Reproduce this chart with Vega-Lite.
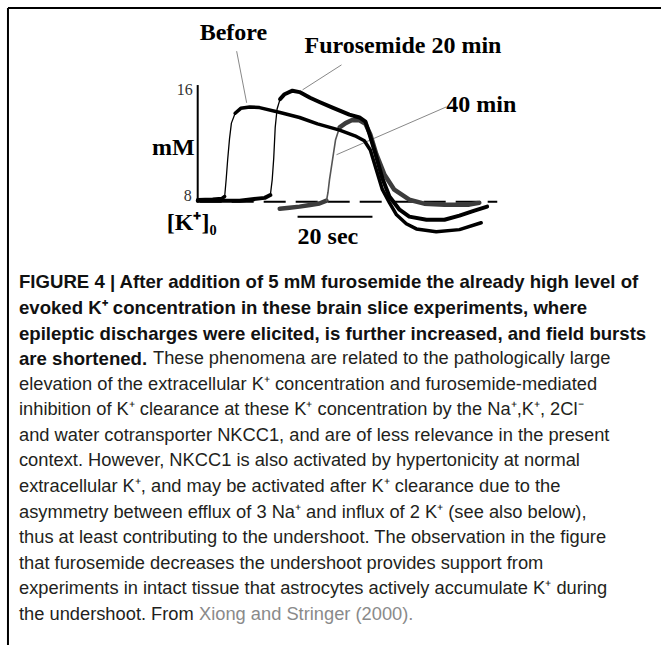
{
  "$schema": "https://vega.github.io/schema/vega-lite/v6.json",
  "width": 662,
  "height": 646,
  "autosize": {"type": "fit", "contains": "padding"},
  "padding": 0,
  "background": "white",
  "config": {"view": {"stroke": null}},
  "datasets": {
    "traces": [
      {"s": "Before", "seg": "base", "t": 0, "v": 8.07}, {"s": "Before", "seg": "base", "t": 4, "v": 8.1}, {"s": "Before", "seg": "base", "t": 6.4, "v": 8.15}, {"s": "Before", "seg": "base", "t": 7.2, "v": 8.3},
      {"s": "Before", "seg": "rise", "t": 7.2, "v": 8.3}, {"s": "Before", "seg": "rise", "t": 7.6, "v": 9.5}, {"s": "Before", "seg": "rise", "t": 8.0, "v": 10.9}, {"s": "Before", "seg": "rise", "t": 8.5, "v": 12.4}, {"s": "Before", "seg": "rise", "t": 9.0, "v": 13.5}, {"s": "Before", "seg": "rise", "t": 10.0, "v": 14.2},
      {"s": "Before", "seg": "main", "t": 10.0, "v": 14.2}, {"s": "Before", "seg": "main", "t": 11.5, "v": 14.55}, {"s": "Before", "seg": "main", "t": 13.9, "v": 14.65}, {"s": "Before", "seg": "main", "t": 16.5, "v": 14.6}, {"s": "Before", "seg": "main", "t": 22, "v": 14.25}, {"s": "Before", "seg": "main", "t": 27.2, "v": 13.9}, {"s": "Before", "seg": "main", "t": 32, "v": 13.45}, {"s": "Before", "seg": "main", "t": 37.9, "v": 13.0}, {"s": "Before", "seg": "main", "t": 42, "v": 12.6}, {"s": "Before", "seg": "main", "t": 44.5, "v": 12.25}, {"s": "Before", "seg": "main", "t": 46.1, "v": 11.6}, {"s": "Before", "seg": "main", "t": 47.7, "v": 10.2}, {"s": "Before", "seg": "main", "t": 49.3, "v": 8.8}, {"s": "Before", "seg": "main", "t": 51.2, "v": 7.86}, {"s": "Before", "seg": "main", "t": 53.1, "v": 7.0}, {"s": "Before", "seg": "main", "t": 55.7, "v": 6.37}, {"s": "Before", "seg": "main", "t": 58.4, "v": 6.0}, {"s": "Before", "seg": "main", "t": 63.7, "v": 5.8}, {"s": "Before", "seg": "main", "t": 69.9, "v": 5.95}, {"s": "Before", "seg": "main", "t": 75.7, "v": 6.44},
      {"s": "Furo20", "seg": "base", "t": 0, "v": 8.0}, {"s": "Furo20", "seg": "base", "t": 11.2, "v": 8.0}, {"s": "Furo20", "seg": "base", "t": 17.9, "v": 8.2}, {"s": "Furo20", "seg": "base", "t": 19.4, "v": 8.4},
      {"s": "Furo20", "seg": "rise", "t": 19.4, "v": 8.4}, {"s": "Furo20", "seg": "rise", "t": 19.9, "v": 9.5}, {"s": "Furo20", "seg": "rise", "t": 20.3, "v": 11.0}, {"s": "Furo20", "seg": "rise", "t": 20.7, "v": 13.2}, {"s": "Furo20", "seg": "rise", "t": 21.2, "v": 14.5}, {"s": "Furo20", "seg": "rise", "t": 22, "v": 15.2},
      {"s": "Furo20", "seg": "main", "t": 22, "v": 15.2}, {"s": "Furo20", "seg": "main", "t": 23.2, "v": 15.55}, {"s": "Furo20", "seg": "main", "t": 25.3, "v": 15.8}, {"s": "Furo20", "seg": "main", "t": 27.2, "v": 15.7}, {"s": "Furo20", "seg": "main", "t": 30, "v": 15.3}, {"s": "Furo20", "seg": "main", "t": 32.5, "v": 15.0}, {"s": "Furo20", "seg": "main", "t": 36, "v": 14.6}, {"s": "Furo20", "seg": "main", "t": 40.5, "v": 14.1}, {"s": "Furo20", "seg": "main", "t": 43.2, "v": 13.9}, {"s": "Furo20", "seg": "main", "t": 44.8, "v": 13.6}, {"s": "Furo20", "seg": "main", "t": 45.9, "v": 12.7}, {"s": "Furo20", "seg": "main", "t": 47.5, "v": 11.3}, {"s": "Furo20", "seg": "main", "t": 49.3, "v": 9.6}, {"s": "Furo20", "seg": "main", "t": 51.2, "v": 8.3}, {"s": "Furo20", "seg": "main", "t": 53.9, "v": 7.36}, {"s": "Furo20", "seg": "main", "t": 56.5, "v": 6.87}, {"s": "Furo20", "seg": "main", "t": 61.1, "v": 6.65}, {"s": "Furo20", "seg": "main", "t": 65.9, "v": 6.65}, {"s": "Furo20", "seg": "main", "t": 69.9, "v": 6.94}, {"s": "Furo20", "seg": "main", "t": 73.9, "v": 7.3}, {"s": "Furo20", "seg": "main", "t": 77.3, "v": 7.58},
      {"s": "Furo40", "seg": "base", "t": 21.9, "v": 7.43}, {"s": "Furo40", "seg": "base", "t": 24.5, "v": 7.5}, {"s": "Furo40", "seg": "base", "t": 27.2, "v": 7.58}, {"s": "Furo40", "seg": "base", "t": 30, "v": 7.7}, {"s": "Furo40", "seg": "base", "t": 32.5, "v": 7.8}, {"s": "Furo40", "seg": "base", "t": 34.4, "v": 8.0},
      {"s": "Furo40", "seg": "rise", "t": 34.4, "v": 8.0}, {"s": "Furo40", "seg": "rise", "t": 34.8, "v": 8.6}, {"s": "Furo40", "seg": "rise", "t": 35.2, "v": 9.5}, {"s": "Furo40", "seg": "rise", "t": 36.0, "v": 10.9}, {"s": "Furo40", "seg": "rise", "t": 36.8, "v": 12.3}, {"s": "Furo40", "seg": "rise", "t": 37.9, "v": 13.2},
      {"s": "Furo40", "seg": "main", "t": 37.9, "v": 13.2}, {"s": "Furo40", "seg": "main", "t": 39.5, "v": 13.5}, {"s": "Furo40", "seg": "main", "t": 41.1, "v": 13.7}, {"s": "Furo40", "seg": "main", "t": 43.2, "v": 13.7}, {"s": "Furo40", "seg": "main", "t": 44.8, "v": 13.45}, {"s": "Furo40", "seg": "main", "t": 46.1, "v": 12.7}, {"s": "Furo40", "seg": "main", "t": 47.7, "v": 11.3}, {"s": "Furo40", "seg": "main", "t": 49.9, "v": 9.84}, {"s": "Furo40", "seg": "main", "t": 52.5, "v": 8.78}, {"s": "Furo40", "seg": "main", "t": 56.5, "v": 8.07}, {"s": "Furo40", "seg": "main", "t": 60.5, "v": 7.79}, {"s": "Furo40", "seg": "main", "t": 65.9, "v": 7.72}, {"s": "Furo40", "seg": "main", "t": 72.5, "v": 7.72}, {"s": "Furo40", "seg": "main", "t": 75.2, "v": 7.86}
    ],
    "pointers": [
      {"p": "Before", "t": 10.4, "v": 18.6}, {"p": "Before", "t": 13.07, "v": 14.94},
      {"p": "Furo20", "t": 38.4, "v": 17.63}, {"p": "Furo20", "t": 28.0, "v": 15.86},
      {"p": "Furo40", "t": 66.4, "v": 14.65}, {"p": "Furo40", "t": 37.07, "v": 11.26}
    ],
    "rules": [
      {"r": "baseline", "t1": 0.53, "t2": 80, "v1": 7.93, "v2": 7.93},
      {"r": "scalebar", "t1": 26.67, "t2": 46.67, "v1": 6.87, "v2": 6.87},
      {"r": "axis", "t1": 0, "t2": 0, "v1": 7.86, "v2": 16.2},
      {"r": "frame", "t1": -50.67, "t2": 123.73, "v1": 21.66, "v2": 21.66},
      {"r": "frame", "t1": -50.67, "t2": -50.67, "v1": 21.66, "v2": -23.5}
    ],
    "labels": [
      {"label": "Before", "t": 0.53, "v": 19.9, "k": "big-left"},
      {"label": "Furosemide 20 min", "t": 28.53, "v": 18.97, "k": "big-left"},
      {"label": "40 min", "t": 66.4, "v": 14.8, "k": "big-left"},
      {"label": "mM", "t": -0.8, "v": 11.75, "k": "big-right"},
      {"label": "[K⁺]₀", "t": -8.27, "v": 6.4, "k": "big-left"},
      {"label": "20 sec", "t": 26.67, "v": 5.45, "k": "big-left"},
      {"label": "16", "t": -1.33, "v": 15.85, "k": "tick"},
      {"label": "8", "t": -1.6, "v": 8.35, "k": "tick"}
    ],
    "caption": [
      {"line": 1, "part": "bold", "text": "FIGURE 4 | After addition of 5 mM furosemide the already high level of"},
      {"line": 2, "part": "bold", "text": "evoked K⁺ concentration in these brain slice experiments, where"},
      {"line": 3, "part": "bold", "text": "epileptic discharges were elicited, is further increased, and field bursts"},
      {"line": 4, "part": "bold", "text": "are shortened."},
      {"line": 4, "part": "after", "text": "These phenomena are related to the pathologically large"},
      {"line": 5, "part": "plain", "text": "elevation of the extracellular K⁺ concentration and furosemide-mediated"},
      {"line": 6, "part": "plain", "text": "inhibition of K⁺ clearance at these K⁺ concentration by the Na⁺,K⁺, 2Cl⁻"},
      {"line": 7, "part": "plain", "text": "and water cotransporter NKCC1, and are of less relevance in the present"},
      {"line": 8, "part": "plain", "text": "context. However, NKCC1 is also activated by hypertonicity at normal"},
      {"line": 9, "part": "plain", "text": "extracellular K⁺, and may be activated after K⁺ clearance due to the"},
      {"line": 10, "part": "plain", "text": "asymmetry between efflux of 3 Na⁺ and influx of 2 K⁺ (see also below),"},
      {"line": 11, "part": "plain", "text": "thus at least contributing to the undershoot. The observation in the figure"},
      {"line": 12, "part": "plain", "text": "that furosemide decreases the undershoot provides support from"},
      {"line": 13, "part": "plain", "text": "experiments in intact tissue that astrocytes actively accumulate K⁺ during"},
      {"line": 14, "part": "plain", "text": "the undershoot. From"},
      {"line": 14, "part": "cite", "text": "Xiong and Stringer (2000)."}
    ]
  },
  "layer": [
    {
      "layer": [
        {
          "data": {"name": "rules"},
          "transform": [{"filter": "datum.r === 'frame'"}],
          "mark": {"type": "rule", "color": "black", "strokeWidth": 2},
          "encoding": {
            "x": {"field": "t1", "type": "quantitative", "scale": {"domain": [-52.8, 123.73], "nice": false, "zero": false}, "axis": null},
            "x2": {"field": "t2"},
            "y": {"field": "v1", "type": "quantitative", "scale": {"domain": [-23.5, 22.23], "nice": false, "zero": false}, "axis": null},
            "y2": {"field": "v2"}
          }
        },
        {
          "data": {"name": "rules"},
          "transform": [{"filter": "datum.r === 'baseline'"}],
          "mark": {"type": "rule", "color": "black", "strokeWidth": 2, "strokeDash": [22, 10]},
          "encoding": {
            "x": {"field": "t1", "type": "quantitative", "scale": {"domain": [-52.8, 123.73], "nice": false, "zero": false}, "axis": null},
            "x2": {"field": "t2"},
            "y": {"field": "v1", "type": "quantitative", "scale": {"domain": [-23.5, 22.23], "nice": false, "zero": false}, "axis": null}
          }
        },
        {
          "data": {"name": "rules"},
          "transform": [{"filter": "datum.r === 'scalebar' || datum.r === 'axis'"}],
          "mark": {"type": "rule", "color": "black", "strokeWidth": 2},
          "encoding": {
            "x": {"field": "t1", "type": "quantitative", "scale": {"domain": [-52.8, 123.73], "nice": false, "zero": false}, "axis": null},
            "x2": {"field": "t2"},
            "y": {"field": "v1", "type": "quantitative", "scale": {"domain": [-23.5, 22.23], "nice": false, "zero": false}, "axis": null},
            "y2": {"field": "v2"}
          }
        },
        {
          "data": {"name": "pointers"},
          "mark": {"type": "line", "color": "#888888", "strokeWidth": 1},
          "encoding": {
            "x": {"field": "t", "type": "quantitative", "scale": {"domain": [-52.8, 123.73], "nice": false, "zero": false}, "axis": null},
            "y": {"field": "v", "type": "quantitative", "scale": {"domain": [-23.5, 22.23], "nice": false, "zero": false}, "axis": null},
            "detail": {"field": "p"}
          }
        },
        {
          "data": {"name": "traces"},
          "transform": [{"filter": "datum.s === 'Furo40' && datum.seg !== 'rise'"}],
          "mark": {"type": "line", "color": "#3c3c3c", "strokeWidth": 4.5, "strokeJoin": "round", "strokeCap": "round"},
          "encoding": {
            "x": {"field": "t", "type": "quantitative", "scale": {"domain": [-52.8, 123.73], "nice": false, "zero": false}, "axis": null},
            "y": {"field": "v", "type": "quantitative", "scale": {"domain": [-23.5, 22.23], "nice": false, "zero": false}, "axis": null},
            "detail": {"field": "seg"}
          }
        },
        {
          "data": {"name": "traces"},
          "transform": [{"filter": "datum.s === 'Furo40' && datum.seg === 'rise'"}],
          "mark": {"type": "line", "color": "#555555", "strokeWidth": 1.6, "strokeJoin": "round", "strokeCap": "round"},
          "encoding": {
            "x": {"field": "t", "type": "quantitative", "scale": {"domain": [-52.8, 123.73], "nice": false, "zero": false}, "axis": null},
            "y": {"field": "v", "type": "quantitative", "scale": {"domain": [-23.5, 22.23], "nice": false, "zero": false}, "axis": null}
          }
        },
        {
          "data": {"name": "traces"},
          "transform": [{"filter": "datum.s === 'Furo20' && datum.seg !== 'rise'"}],
          "mark": {"type": "line", "color": "black", "strokeWidth": 4, "strokeJoin": "round", "strokeCap": "round"},
          "encoding": {
            "x": {"field": "t", "type": "quantitative", "scale": {"domain": [-52.8, 123.73], "nice": false, "zero": false}, "axis": null},
            "y": {"field": "v", "type": "quantitative", "scale": {"domain": [-23.5, 22.23], "nice": false, "zero": false}, "axis": null},
            "detail": {"field": "seg"}
          }
        },
        {
          "data": {"name": "traces"},
          "transform": [{"filter": "datum.s === 'Before' && datum.seg !== 'rise'"}],
          "mark": {"type": "line", "color": "black", "strokeWidth": 3.5, "strokeJoin": "round", "strokeCap": "round"},
          "encoding": {
            "x": {"field": "t", "type": "quantitative", "scale": {"domain": [-52.8, 123.73], "nice": false, "zero": false}, "axis": null},
            "y": {"field": "v", "type": "quantitative", "scale": {"domain": [-23.5, 22.23], "nice": false, "zero": false}, "axis": null},
            "detail": {"field": "seg"}
          }
        },
        {
          "data": {"name": "traces"},
          "transform": [{"filter": "datum.s !== 'Furo40' && datum.seg === 'rise'"}],
          "mark": {"type": "line", "color": "black", "strokeWidth": 1.3, "strokeJoin": "round", "strokeCap": "round"},
          "encoding": {
            "x": {"field": "t", "type": "quantitative", "scale": {"domain": [-52.8, 123.73], "nice": false, "zero": false}, "axis": null},
            "y": {"field": "v", "type": "quantitative", "scale": {"domain": [-23.5, 22.23], "nice": false, "zero": false}, "axis": null},
            "detail": {"field": "s"}
          }
        },
        {
          "data": {"name": "labels"},
          "transform": [{"filter": "datum.k === 'big-left'"}],
          "mark": {"type": "text", "font": "Liberation Serif", "fontWeight": "bold", "fontSize": 24, "align": "left", "baseline": "middle", "color": "black"},
          "encoding": {
            "x": {"field": "t", "type": "quantitative", "scale": {"domain": [-52.8, 123.73], "nice": false, "zero": false}, "axis": null},
            "y": {"field": "v", "type": "quantitative", "scale": {"domain": [-23.5, 22.23], "nice": false, "zero": false}, "axis": null},
            "text": {"field": "label"}
          }
        },
        {
          "data": {"name": "labels"},
          "transform": [{"filter": "datum.k === 'big-right'"}],
          "mark": {"type": "text", "font": "Liberation Serif", "fontWeight": "bold", "fontSize": 24, "align": "right", "baseline": "middle", "color": "black"},
          "encoding": {
            "x": {"field": "t", "type": "quantitative", "scale": {"domain": [-52.8, 123.73], "nice": false, "zero": false}, "axis": null},
            "y": {"field": "v", "type": "quantitative", "scale": {"domain": [-23.5, 22.23], "nice": false, "zero": false}, "axis": null},
            "text": {"field": "label"}
          }
        },
        {
          "data": {"name": "labels"},
          "transform": [{"filter": "datum.k === 'tick'"}],
          "mark": {"type": "text", "font": "Liberation Serif", "fontSize": 16, "align": "right", "baseline": "middle", "color": "#333333"},
          "encoding": {
            "x": {"field": "t", "type": "quantitative", "scale": {"domain": [-52.8, 123.73], "nice": false, "zero": false}, "axis": null},
            "y": {"field": "v", "type": "quantitative", "scale": {"domain": [-23.5, 22.23], "nice": false, "zero": false}, "axis": null},
            "text": {"field": "label"}
          }
        }
      ]
    },
    {
      "layer": [
        {
          "data": {"name": "caption"},
          "transform": [{"filter": "datum.part === 'bold'"}],
          "mark": {"type": "text", "font": "Liberation Sans", "fontWeight": "bold", "fontSize": 18.6, "align": "left", "baseline": "middle", "color": "#111111"},
          "encoding": {
            "x": {"datum": -47.73, "type": "quantitative", "scale": {"domain": [-52.8, 123.73], "nice": false, "zero": false}, "axis": null},
            "y": {"field": "line", "type": "quantitative", "scale": {"domain": [-10.05, 15.18], "reverse": true, "nice": false, "zero": false}, "axis": null},
            "text": {"field": "text"}
          }
        },
        {
          "data": {"name": "caption"},
          "transform": [{"filter": "datum.part === 'plain'"}],
          "mark": {"type": "text", "font": "Liberation Sans", "fontSize": 18.3, "align": "left", "baseline": "middle", "color": "#231f20"},
          "encoding": {
            "x": {"datum": -47.73, "type": "quantitative", "scale": {"domain": [-52.8, 123.73], "nice": false, "zero": false}, "axis": null},
            "y": {"field": "line", "type": "quantitative", "scale": {"domain": [-10.05, 15.18], "reverse": true, "nice": false, "zero": false}, "axis": null},
            "text": {"field": "text"}
          }
        },
        {
          "data": {"name": "caption"},
          "transform": [{"filter": "datum.part === 'after'"}],
          "mark": {"type": "text", "font": "Liberation Sans", "fontSize": 18.3, "align": "left", "baseline": "middle", "color": "#231f20", "dx": 134},
          "encoding": {
            "x": {"datum": -47.73, "type": "quantitative", "scale": {"domain": [-52.8, 123.73], "nice": false, "zero": false}, "axis": null},
            "y": {"field": "line", "type": "quantitative", "scale": {"domain": [-10.05, 15.18], "reverse": true, "nice": false, "zero": false}, "axis": null},
            "text": {"field": "text"}
          }
        },
        {
          "data": {"name": "caption"},
          "transform": [{"filter": "datum.part === 'cite'"}],
          "mark": {"type": "text", "font": "Liberation Sans", "fontSize": 18.3, "align": "left", "baseline": "middle", "color": "#8a8a8a", "dx": 180},
          "encoding": {
            "x": {"datum": -47.73, "type": "quantitative", "scale": {"domain": [-52.8, 123.73], "nice": false, "zero": false}, "axis": null},
            "y": {"field": "line", "type": "quantitative", "scale": {"domain": [-10.05, 15.18], "reverse": true, "nice": false, "zero": false}, "axis": null},
            "text": {"field": "text"}
          }
        }
      ]
    }
  ],
  "resolve": {"scale": {"y": "independent"}}
}
